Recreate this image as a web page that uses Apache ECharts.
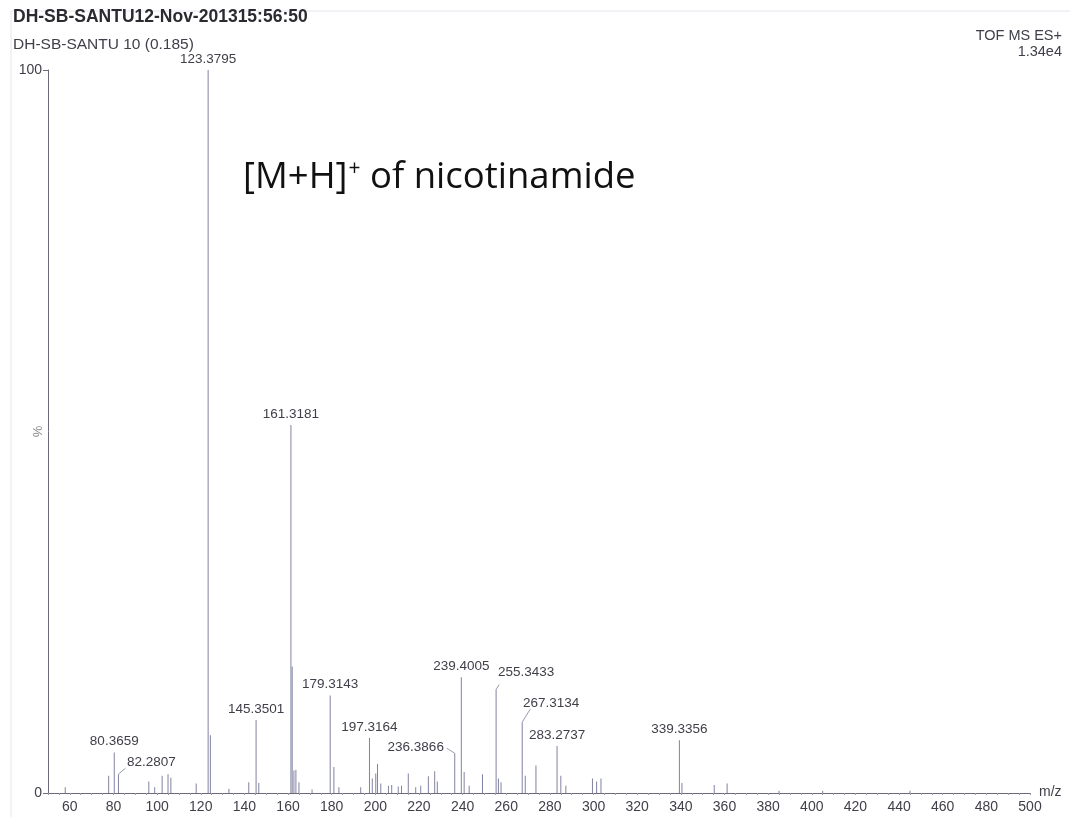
<!DOCTYPE html>
<html>
<head>
<meta charset="utf-8">
<script src="https://cdn.jsdelivr.net/npm/echarts@6/dist/echarts.min.js"></script>
<style>
  html, body { margin: 0; padding: 0; background: #fff; }
  #chart { width: 1070px; height: 817px; }
</style>
</head>
<body>
<div id="chart"></div>
<script>
// stick spectrum, m/z and relative intensity (%)
const peakMz = [57.9, 77.8, 80.3659, 82.2807, 96.2, 98.9, 102.3, 105.0, 106.3, 117.9,
  123.3795, 124.4, 132.9, 142.0, 145.3501, 146.6, 161.3181, 161.9, 162.7, 163.6, 165.0, 171.0,
  179.3143, 181.0, 183.3, 193.3, 197.3164, 198.6, 200.2, 201.0, 202.5, 206.0, 207.5, 210.5, 212.0,
  215.1, 218.5, 220.8, 224.3, 227.2, 228.4, 236.3866, 239.4005, 240.7, 243.0, 249.1,
  255.3433, 256.4, 257.6, 267.3134, 268.7, 273.6, 283.2737, 285.0, 287.3, 299.5, 301.4, 303.4,
  339.3356, 340.5, 355.3, 361.2, 385.0, 405.0, 445.0];
const peakPct = [0.8, 2.4, 5.6, 2.6, 1.6, 0.8, 2.4, 2.6, 2.1, 1.3,
  100, 8.0, 0.6, 1.5, 10.1, 1.4, 50.9, 17.5, 3.1, 3.2, 1.5, 0.5,
  13.5, 3.6, 0.8, 0.8, 7.6, 2.0, 2.7, 4.0, 1.3, 1.0, 1.1, 0.9, 1.0,
  2.7, 0.8, 1.0, 2.3, 3.0, 1.6, 5.5, 16.0, 2.9, 1.0, 2.6,
  14.3, 2.0, 1.5, 9.8, 2.4, 3.8, 6.5, 2.4, 1.0, 2.0, 1.6, 2.0,
  7.3, 1.4, 1.1, 1.3, 0.3, 0.3, 0.3];

// annotated peaks
const labelMz = [80.3659, 82.2807, 123.3795, 145.3501, 161.3181, 179.3143, 197.3164,
  236.3866, 239.4005, 255.3433, 267.3134, 283.2737, 339.3356];
const labelPct = [5.6, 2.6, 100, 10.1, 50.9, 13.5, 7.6, 5.5, 16.0, 14.3, 9.8, 6.5, 7.3];

const xLabelValues = [60, 80, 100, 120, 140, 160, 180, 200, 220, 240, 260, 280, 300,
  320, 340, 360, 380, 400, 420, 440, 460, 480, 500];
const xTickValues = [];
for (let v = 50; v <= 500; v += 5) xTickValues.push(v);

// pixel offsets of label centre and leader bend, relative to peak top
const labelPlace = {
  '82.2807': { text: [33, -12], line: [7, -6] },
  '236.3866': { text: [-39, -6], line: [-8, -5] },
  '255.3433': { text: [30, -17], line: [3, -5] },
  '267.3134': { text: [29, -19], line: [8, -13] }
};

const stickColor = '#8282a2';
const textColor = '#40404a';
const font = 'Liberation Sans, Arial, sans-serif';

const chart = echarts.init(document.getElementById('chart'), null, { renderer: 'canvas' });

function renderLabel(params, api) {
  const top = api.coord([api.value(0), api.value(1)]);
  const key = labelMz[params.dataIndex].toFixed(4);
  const place = labelPlace[key];
  const off = place ? place.text : [0, -11];
  const children = [{
    type: 'text',
    style: {
      text: key,
      x: top[0] + off[0],
      y: top[1] + off[1],
      align: 'center',
      verticalAlign: 'middle',
      font: '13.5px ' + font,
      fill: textColor
    }
  }];
  if (place) {
    children.push({
      type: 'polyline',
      shape: { points: [top, [top[0] + place.line[0], top[1] + place.line[1]]] },
      style: { stroke: '#9a9aaa', lineWidth: 1, fill: null }
    });
  }
  return { type: 'group', children };
}

const option = {
  animation: false,
  backgroundColor: '#fff',
  grid: { left: 48, right: 40, top: 70, bottom: 24, containLabel: false, outerBoundsMode: 'none' },
  xAxis: {
    type: 'value',
    min: 50,
    max: 500,
    name: 'm/z',
    nameLocation: 'end',
    nameGap: 9,
    nameTextStyle: { fontFamily: font, fontSize: 14, color: textColor, verticalAlign: 'bottom', padding: [0, 0, -6, 0] },
    axisLine: { lineStyle: { color: '#6a6a7a', width: 1 } },
    axisTick: { show: true, customValues: xTickValues, length: 2, lineStyle: { color: '#9a9aaa' } },
    axisLabel: { customValues: xLabelValues, fontFamily: font, fontSize: 14, color: textColor, margin: 7 },
    splitLine: { show: false }
  },
  yAxis: {
    type: 'value',
    min: 0,
    max: 100,
    interval: 100,
    name: '%',
    nameLocation: 'middle',
    nameGap: 3,
    nameRotate: 90,
    nameMoveOverlap: false,
    nameTextStyle: { fontFamily: font, fontSize: 13, color: '#888' },
    axisLine: { show: true, lineStyle: { color: '#6a6a7a', width: 1 } },
    axisTick: { show: true, length: 5, lineStyle: { color: '#6a6a7a' } },
    axisLabel: { fontFamily: font, fontSize: 14, color: textColor, margin: 6 },
    splitLine: { show: false }
  },
  series: [
    {
      type: 'bar',
      barWidth: 1,
      itemStyle: { color: stickColor },
      data: peakMz.map((m, i) => [m, peakPct[i]]),
      z: 2
    },
    {
      type: 'custom',
      silent: true,
      clip: false,
      renderItem: renderLabel,
      encode: { x: 0, y: 1 },
      data: labelMz.map((m, i) => [m, labelPct[i]]),
      z: 3
    }
  ],
  graphic: [
    {
      type: 'rect',
      shape: { x: 11, y: 11, width: 1080, height: 820 },
      style: { fill: 'none', stroke: '#e6e6ee', lineWidth: 1 },
      silent: true
    },
    {
      type: 'text', left: 13, top: 8,
      style: { text: 'DH-SB-SANTU12-Nov-201315:56:50', font: 'bold 17.5px ' + font, fill: '#2a2a30' }
    },
    {
      type: 'text', left: 13, top: 37,
      style: { text: 'DH-SB-SANTU 10 (0.185)', font: '15.5px ' + font, fill: textColor }
    },
    {
      type: 'text', right: 8, top: 28,
      style: { text: 'TOF MS ES+', font: '14.5px ' + font, fill: textColor, align: 'right' }
    },
    {
      type: 'text', right: 8, top: 44,
      style: { text: '1.34e4', font: '14.5px ' + font, fill: textColor, align: 'right' }
    },
    {
      type: 'text', left: 243, top: 159,
      style: {
        text: '{a|[M+H]}{s|+}{a| of nicotinamide}',
        rich: {
          a: { fontFamily: 'Open Sans, sans-serif', fontSize: 36.5, fill: '#111', verticalAlign: 'bottom' },
          s: { fontFamily: 'Open Sans, sans-serif', fontSize: 21, fill: '#111', verticalAlign: 'top', padding: [0, 0, 14, 1] }
        }
      }
    }
  ]
};

chart.setOption(option);
</script>
</body>
</html>
